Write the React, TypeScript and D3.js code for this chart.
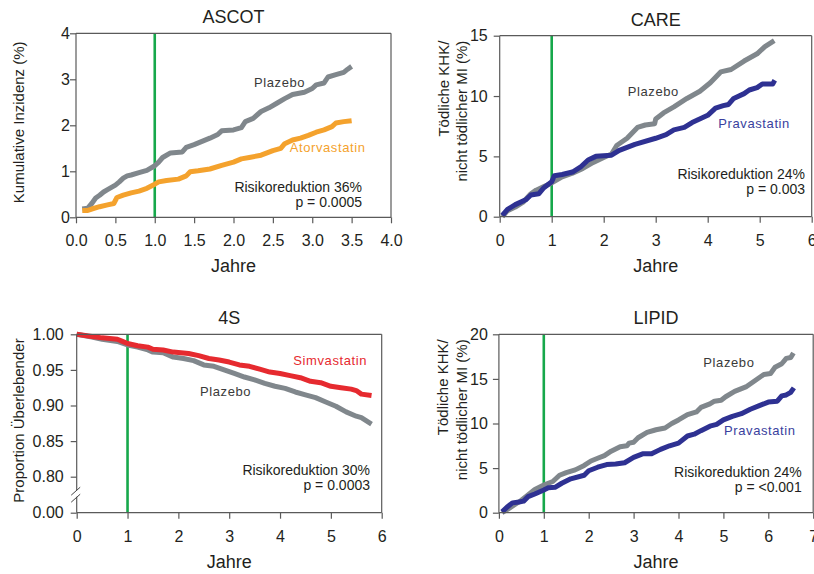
import React, { useEffect, useRef } from 'react';
import * as d3 from 'd3';

// [Jahre, Wert]
const ascotPlacebo = [
  [0.08, 0.18], [0.15, 0.2], [0.2, 0.3], [0.25, 0.42], [0.3, 0.48], [0.35, 0.55], [0.4, 0.6],
  [0.45, 0.65], [0.5, 0.7], [0.55, 0.77], [0.6, 0.85], [0.65, 0.9], [0.7, 0.92], [0.8, 0.97],
  [0.9, 1.02], [1.0, 1.12], [1.05, 1.2], [1.1, 1.3], [1.2, 1.4], [1.35, 1.42], [1.4, 1.52],
  [1.5, 1.58], [1.6, 1.65], [1.7, 1.72], [1.8, 1.8], [1.85, 1.88], [2.0, 1.9], [2.1, 1.95],
  [2.15, 2.08], [2.25, 2.15], [2.35, 2.3], [2.45, 2.38], [2.55, 2.48], [2.65, 2.58], [2.75, 2.67],
  [2.9, 2.72], [3.0, 2.8], [3.05, 2.88], [3.15, 2.92], [3.2, 3.05], [3.3, 3.1], [3.4, 3.15],
  [3.45, 3.22], [3.5, 3.28],
];
const ascotAtorvastatin = [
  [0.08, 0.15], [0.15, 0.15], [0.2, 0.18], [0.3, 0.23], [0.4, 0.27], [0.48, 0.3], [0.52, 0.43],
  [0.6, 0.48], [0.7, 0.53], [0.8, 0.57], [0.9, 0.63], [1.0, 0.72], [1.05, 0.77], [1.15, 0.8],
  [1.3, 0.83], [1.4, 0.9], [1.45, 0.99], [1.55, 1.01], [1.7, 1.05], [1.85, 1.13], [2.0, 1.2],
  [2.1, 1.27], [2.2, 1.3], [2.35, 1.35], [2.5, 1.45], [2.6, 1.5], [2.65, 1.6], [2.75, 1.68],
  [2.85, 1.72], [2.95, 1.78], [3.05, 1.85], [3.15, 1.9], [3.25, 1.97], [3.3, 2.05], [3.4, 2.08],
  [3.5, 2.1],
];
const carePlacebo = [
  [0.05, 0], [0.15, 0.5], [0.3, 0.8], [0.45, 1.2], [0.6, 1.9], [0.7, 2.2], [0.85, 2.5],
  [1.0, 2.8], [1.2, 3.3], [1.4, 3.6], [1.6, 4.0], [1.8, 4.5], [2.0, 4.9], [2.15, 5.2],
  [2.25, 5.9], [2.45, 6.5], [2.65, 7.4], [2.8, 7.6], [2.98, 7.7], [3.0, 8.1], [3.15, 8.6],
  [3.35, 9.1], [3.6, 9.8], [3.85, 10.4], [4.05, 11.1], [4.25, 12.0], [4.45, 12.2], [4.7, 12.9],
  [4.95, 13.5], [5.1, 14.1], [5.28, 14.6],
];
const carePravastatin = [
  [0.05, 0.1], [0.15, 0.6], [0.3, 1.0], [0.5, 1.4], [0.6, 1.8], [0.75, 1.9], [0.85, 2.4],
  [1.0, 2.9], [1.05, 3.4], [1.2, 3.5], [1.4, 3.7], [1.55, 4.1], [1.7, 4.7], [1.85, 5.0],
  [2.15, 5.1], [2.3, 5.5], [2.6, 6.0], [3.0, 6.5], [3.2, 6.8], [3.35, 7.2], [3.55, 7.4],
  [3.7, 7.8], [4.0, 8.4], [4.15, 9.0], [4.3, 9.2], [4.4, 9.3], [4.5, 9.8], [4.7, 10.2],
  [4.8, 10.5], [4.95, 10.7], [5.05, 11.0], [5.25, 11.0], [5.29, 11.3],
];
const fourSPlacebo = [
  [0, 1.0], [0.3, 0.996], [0.5, 0.993], [0.8, 0.99], [1.0, 0.985], [1.2, 0.982], [1.4, 0.978],
  [1.5, 0.975], [1.7, 0.974], [1.9, 0.968], [2.1, 0.966], [2.3, 0.963], [2.5, 0.957], [2.7, 0.955],
  [2.9, 0.95], [3.1, 0.945], [3.3, 0.94], [3.5, 0.936], [3.7, 0.931], [3.9, 0.927], [4.1, 0.924],
  [4.3, 0.919], [4.5, 0.915], [4.7, 0.911], [4.9, 0.905], [5.1, 0.899], [5.3, 0.891], [5.5, 0.885],
  [5.6, 0.883], [5.8, 0.874],
];
const fourSSimvastatin = [
  [0, 1.0], [0.3, 0.997], [0.5, 0.995], [0.8, 0.993], [0.9, 0.99], [1.0, 0.987], [1.2, 0.984],
  [1.4, 0.982], [1.5, 0.979], [1.7, 0.978], [1.9, 0.975], [2.2, 0.973], [2.4, 0.97], [2.6, 0.966],
  [2.8, 0.964], [3.0, 0.961], [3.2, 0.957], [3.4, 0.955], [3.6, 0.951], [3.8, 0.947], [4.0, 0.945],
  [4.2, 0.942], [4.4, 0.939], [4.6, 0.934], [4.8, 0.932], [5.0, 0.927], [5.2, 0.925], [5.4, 0.923],
  [5.5, 0.921], [5.6, 0.916], [5.8, 0.914],
];
const lipidPlacebo = [
  [0.07, 0], [0.2, 0.4], [0.35, 0.9], [0.5, 1.4], [0.6, 1.8], [0.8, 2.6], [1.0, 3.1], [1.2, 3.5],
  [1.35, 4.2], [1.5, 4.5], [1.7, 4.8], [1.9, 5.3], [2.05, 5.8], [2.2, 6.1], [2.35, 6.4], [2.5, 6.9],
  [2.7, 7.4], [2.85, 7.5], [2.9, 7.8], [3.0, 7.9], [3.1, 8.4], [3.3, 9.0], [3.5, 9.3], [3.7, 9.5],
  [3.85, 10.0], [4.0, 10.4], [4.2, 11.0], [4.4, 11.3], [4.5, 11.8], [4.7, 12.2], [4.8, 12.5],
  [4.95, 12.6], [5.05, 13.0], [5.25, 13.6], [5.5, 14.1], [5.7, 14.8], [5.9, 15.5], [6.05, 15.6],
  [6.15, 16.3], [6.3, 16.7], [6.4, 17.3], [6.5, 17.4], [6.56, 17.9],
];
const lipidPravastatin = [
  [0.07, 0.1], [0.2, 0.7], [0.3, 1.1], [0.45, 1.2], [0.55, 1.3], [0.65, 1.8], [0.8, 2.1],
  [1.0, 2.55], [1.1, 2.8], [1.25, 2.85], [1.4, 3.3], [1.6, 3.8], [1.9, 4.2], [2.0, 4.7],
  [2.2, 5.1], [2.4, 5.4], [2.6, 5.45], [2.8, 5.6], [3.0, 6.2], [3.2, 6.6], [3.4, 6.6], [3.6, 7.1],
  [3.8, 7.5], [4.0, 7.8], [4.2, 8.6], [4.35, 8.8], [4.5, 9.2], [4.7, 9.7], [4.85, 9.9], [5.0, 10.4],
  [5.2, 10.8], [5.4, 11.1], [5.6, 11.6], [5.8, 12.0], [6.0, 12.4], [6.2, 12.5], [6.3, 13.1],
  [6.4, 13.2], [6.5, 13.5], [6.57, 14.0],
];

const ascotXTicks = [0, 0.5, 1, 1.5, 2, 2.5, 3, 3.5, 4];
const ascotYTicks = [0, 1, 2, 3, 4];
const careXTicks = [0, 1, 2, 3, 4, 5, 6];
const careYTicks = [0, 5, 10, 15];
const fourSXTicks = [0, 1, 2, 3, 4, 5, 6];
const fourSYTicks = [0, 0.8, 0.85, 0.9, 0.95, 1.0];
const lipidXTicks = [0, 1, 2, 3, 4, 5, 6, 7];
const lipidYTicks = [0, 5, 10, 15, 20];

const markerYear = 1;

const FONT = '"Liberation Sans", Arial, Helvetica, sans-serif';
const INK = '#231f20';
const GREY = '#80878c';
const ORANGE = '#f4a22d';
const NAVY = '#2e3192';
const RED = '#e62a2f';
const GREEN = '#16a84b';

const panels = [
  {
    title: 'ASCOT',
    left: 76, right: 391, top: 33.3, bottom: 217.3,
    xDomain: [0, 4], yDomain: [0, 4], yRange: null,
    xTicks: ascotXTicks, yTicks: ascotYTicks,
    xFmt: d3.format('.1f'), yFmt: d3.format('d'),
    yGap: 0,
    yLabel: ['Kumulative Inzidenz (%)'], yLabelX: 23.8, yLabelAnchor: 'middle',
    series: [
      { data: ascotPlacebo, color: GREY },
      { data: ascotAtorvastatin, color: ORANGE },
    ],
    notes: [
      { text: 'Plazebo', x: 254, y: 87.3, color: '#3a3a3a' },
      { text: 'Atorvastatin', x: 289.7, y: 152, color: ORANGE },
    ],
    risk: { lines: ['Risikoreduktion 36%', 'p = 0.0005'], x: 362, y: 192 },
  },
  {
    title: 'CARE',
    left: 499.7, right: 811.7, top: 35.7, bottom: 216.7,
    xDomain: [0, 6], yDomain: [0, 15], yRange: null,
    xTicks: careXTicks, yTicks: careYTicks,
    xFmt: d3.format('d'), yFmt: d3.format('d'),
    yGap: 6,
    yLabel: ['Tödliche KHK/', 'nicht tödlicher MI (%)'], yLabelX: 448.8, yLabelAnchor: 'end',
    series: [
      { data: carePlacebo, color: GREY },
      { data: carePravastatin, color: NAVY },
    ],
    notes: [
      { text: 'Plazebo', x: 627.7, y: 96.3, color: '#3a3a3a' },
      { text: 'Pravastatin', x: 718.3, y: 128, color: '#3a3f9e' },
    ],
    risk: { lines: ['Risikoreduktion 24%', 'p = 0.003'], x: 805, y: 178.7 },
  },
  {
    title: '4S',
    left: 76.7, right: 381.7, top: 334.3, bottom: 512.7,
    xDomain: [0, 6], yDomain: [0, 0.8, 1.0], yRange: [512.7, 476.7, 334.3],
    xTicks: fourSXTicks, yTicks: fourSYTicks,
    xFmt: d3.format('d'), yFmt: d3.format('.2f'),
    yGap: 7,
    yLabel: ['Proportion Überlebender'], yLabelX: 23.8, yLabelAnchor: 'middle',
    axisBreak: true,
    series: [
      { data: fourSPlacebo, color: GREY },
      { data: fourSSimvastatin, color: RED },
    ],
    notes: [
      { text: 'Simvastatin', x: 293.3, y: 365.3, color: RED },
      { text: 'Plazebo', x: 200, y: 396, color: '#3a3a3a' },
    ],
    risk: { lines: ['Risikoreduktion 30%', 'p = 0.0003'], x: 370, y: 475.3 },
  },
  {
    title: 'LIPID',
    left: 498.9, right: 813.2, top: 334.3, bottom: 512.7,
    xDomain: [0, 7], yDomain: [0, 20], yRange: null,
    xTicks: lipidXTicks, yTicks: lipidYTicks,
    xFmt: d3.format('d'), yFmt: d3.format('d'),
    yGap: 5,
    yLabel: ['Tödliche KHK/', 'nicht tödlicher MI (%)'], yLabelX: 448.3, yLabelAnchor: 'end',
    series: [
      { data: lipidPlacebo, color: GREY },
      { data: lipidPravastatin, color: NAVY },
    ],
    notes: [
      { text: 'Plazebo', x: 703.3, y: 367, color: '#3a3a3a' },
      { text: 'Pravastatin', x: 724, y: 435.3, color: '#3a3f9e' },
    ],
    risk: { lines: ['Risikoreduktion 24%', 'p = <0.001'], x: 801.7, y: 477 },
  },
];

const App = () => {
  const svgRef = useRef(null);

  useEffect(() => {
    const svg = d3.select(svgRef.current);
    svg.selectAll('*').remove();
    svg.attr('font-family', FONT);

    panels.forEach((p: any) => {
      const g = svg.append('g');
      const x = d3.scaleLinear().domain(p.xDomain).range([p.left, p.right]);
      const y = d3.scaleLinear()
        .domain(p.yDomain)
        .range(p.yRange || [p.bottom, p.top]);

      // marker line at year 1
      g.append('line')
        .attr('x1', x(markerYear)).attr('x2', x(markerYear))
        .attr('y1', p.top).attr('y2', p.bottom)
        .attr('stroke', GREEN)
        .attr('stroke-width', 2.6);

      const line = d3.line()
        .x((d: any) => x(d[0]))
        .y((d: any) => y(d[1]));

      p.series.forEach((s: any) => {
        g.append('path')
          .datum(s.data)
          .attr('d', line)
          .attr('fill', 'none')
          .attr('stroke', s.color)
          .attr('stroke-width', 5)
          .attr('stroke-linejoin', 'round');
      });

      // frame
      const frame = '#5a5a5a';
      g.append('line').attr('x1', p.left).attr('x2', p.right).attr('y1', p.top).attr('y2', p.top)
        .attr('stroke', frame).attr('stroke-width', 1.2);
      g.append('line').attr('x1', p.right).attr('x2', p.right).attr('y1', p.top).attr('y2', p.bottom)
        .attr('stroke', frame).attr('stroke-width', 1.2);
      g.append('line').attr('x1', p.left).attr('x2', p.right).attr('y1', p.bottom).attr('y2', p.bottom)
        .attr('stroke', frame).attr('stroke-width', 1.2);

      if (p.axisBreak) {
        const yb = (y(0) + y(0.8)) / 2;
        g.append('line').attr('x1', p.left).attr('x2', p.left).attr('y1', p.top).attr('y2', yb - 4.5)
          .attr('stroke', frame).attr('stroke-width', 1.2);
        g.append('line').attr('x1', p.left).attr('x2', p.left).attr('y1', yb + 2).attr('y2', p.bottom)
          .attr('stroke', frame).attr('stroke-width', 1.2);
        [-3.5, 3.5].forEach((o) => {
          g.append('line')
            .attr('x1', p.left - 5.5).attr('y1', yb + o + 4)
            .attr('x2', p.left + 3.5).attr('y2', yb + o - 4)
            .attr('stroke', '#444').attr('stroke-width', 1);
        });
      } else {
        g.append('line').attr('x1', p.left).attr('x2', p.left).attr('y1', p.top).attr('y2', p.bottom)
          .attr('stroke', frame).attr('stroke-width', 1.2);
      }

      // axes
      const xAxis = g.append('g')
        .attr('transform', `translate(0,${p.bottom})`)
        .call(d3.axisBottom(x).tickValues(p.xTicks).tickFormat(p.xFmt).tickSize(6).tickPadding(11.5));
      const yAxis = g.append('g')
        .attr('transform', `translate(${p.left},0)`)
        .call(d3.axisLeft(y).tickValues(p.yTicks).tickFormat(p.yFmt).tickSize(6).tickPadding(p.yGap));
      [xAxis, yAxis].forEach((a) => {
        a.select('.domain').remove();
        a.selectAll('.tick line').attr('stroke', frame).attr('stroke-width', 1.2);
        a.selectAll('.tick text')
          .attr('font-size', 16)
          .attr('font-family', FONT)
          .attr('fill', INK);
      });

      // title and axis titles
      const cx = (p.left + p.right) / 2;
      g.append('text')
        .attr('x', cx).attr('y', p.top - 10)
        .attr('text-anchor', 'middle')
        .attr('font-size', 18)
        .attr('fill', INK)
        .text(p.title);
      g.append('text')
        .attr('x', cx).attr('y', p.bottom + 55)
        .attr('text-anchor', 'middle')
        .attr('font-size', 18)
        .attr('fill', INK)
        .text('Jahre');

      p.yLabel.forEach((t: string, i: number) => {
        const ly = p.yLabelAnchor === 'end' ? p.top + 5 : (p.top + p.bottom) / 2 - 3;
        g.append('text')
          .attr('transform', `translate(${p.yLabelX + i * 18.4},${ly}) rotate(-90)`)
          .attr('text-anchor', p.yLabelAnchor)
          .attr('font-size', 15)
          .attr('fill', INK)
          .text(t);
      });

      // curve labels
      p.notes.forEach((n: any) => {
        g.append('text')
          .attr('x', n.x).attr('y', n.y)
          .attr('font-size', 13)
          .attr('letter-spacing', 0.6)
          .attr('fill', n.color)
          .text(n.text);
      });

      p.risk.lines.forEach((t: string, i: number) => {
        g.append('text')
          .attr('x', p.risk.x).attr('y', p.risk.y + i * 15)
          .attr('text-anchor', 'end')
          .attr('font-size', 14)
          .attr('fill', INK)
          .text(t);
      });
    });
  }, []);

  return (
    <svg
      ref={svgRef}
      width={814}
      height={574}
      style={{ position: 'absolute', left: 0, top: 0, background: '#fff' }}
    />
  );
};

export default App;
